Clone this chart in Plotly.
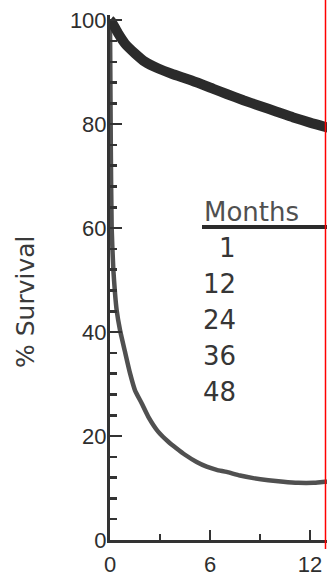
import plotly.graph_objects as go

# ---- data ----
upper_months = [0, 0.1, 0.5, 0.9, 1.5, 2.1, 2.9, 3.7, 4.9, 6.2, 7.0, 8.0, 9.0, 10.0, 11.0, 12.0, 13.1]
upper_surv = [100, 99.7, 97.4, 95.5, 93.6, 92.0, 90.7, 89.7, 88.4, 86.8, 85.8, 84.6, 83.5, 82.4, 81.3, 80.3, 79.3]

lower_months = [0, 0.05, 0.1, 0.2, 0.3, 0.4, 0.6, 0.9, 1.2, 1.5, 1.9, 2.3, 2.9, 3.5, 4.0, 4.5, 5.2,
                5.8, 6.4, 7.0, 7.8, 8.6, 9.5, 10.4, 11.3, 12.2, 12.9, 13.1]
lower_surv = [100, 75, 60, 52, 47.5, 44.2, 40.4, 36.2, 32.1, 28.8, 26.3, 23.7, 20.8, 18.9, 17.6, 16.4, 15.0,
              14.1, 13.5, 13.1, 12.4, 11.9, 11.5, 11.2, 11.0, 11.0, 11.2, 11.2]

x_ticks = [0, 6, 12]
y_ticks = [0, 20, 40, 60, 80, 100]
table_header = "Months"
table_months = ["1", "12", "24", "36", "48"]

# ---- layout geometry (pixels) ----
W, H = 327, 577
L, R, T, B = 110, 0, 15, 37
PW, PH = W - L - R, H - T - B
X_MAX = 13.02
Y_MIN, Y_MAX = 0, 101


def px_x(px):
    return (px - L) / PW


def px_y(py):
    return (H - B - py) / PH


fig = go.Figure()
fig.add_trace(go.Scatter(x=lower_months, y=lower_surv, mode="lines",
                         line=dict(color="#505050", width=4.5, shape="spline", smoothing=0.5),
                         hoverinfo="skip"))
fig.add_trace(go.Scatter(x=upper_months, y=upper_surv, mode="lines",
                         line=dict(color="#2b2b2b", width=10, shape="spline", smoothing=0.6),
                         hoverinfo="skip"))

axis_font = dict(family="Liberation Sans, Arial, sans-serif", size=22, color="#2e2e2e")

fig.update_layout(
    template="none",
    width=W, height=H, margin=dict(l=L, r=R, t=T, b=B, autoexpand=False),
    paper_bgcolor="white", plot_bgcolor="white", showlegend=False,
    xaxis=dict(range=[0, X_MAX], tickvals=x_ticks, ticks="inside", ticklen=10, tickwidth=2.5,
               tickcolor="#333333", showline=True, linewidth=3, linecolor="#333333",
               showgrid=False, zeroline=False, tickfont=axis_font, ticklabelstandoff=3,
               automargin=False,
               minor=dict(dtick=3, ticks="inside", ticklen=6, tickwidth=2.5, tickcolor="#333333", showgrid=False)),
    yaxis=dict(range=[Y_MIN, Y_MAX], tickvals=y_ticks, ticks="inside", ticklen=12, tickwidth=2.5,
               tickcolor="#333333", showline=True, linewidth=3, linecolor="#333333",
               showgrid=False, zeroline=False, tickfont=axis_font, ticklabelstandoff=-4,
               automargin=False,
               minor=dict(dtick=4, ticks="inside", ticklen=7, tickwidth=2.5, tickcolor="#333333", showgrid=False)),
)

table_font = dict(family="DejaVu Sans, sans-serif", size=26, color="#363636")

fig.add_annotation(text="% Survival", textangle=-90, xref="paper", yref="paper",
                   x=px_x(25), y=px_y(302), xanchor="center", yanchor="middle", showarrow=False,
                   font=dict(family="DejaVu Sans, sans-serif", size=25, color="#3a3a3a"))

fig.add_annotation(text=table_header, xref="paper", yref="paper", x=px_x(202), y=px_y(212),
                   xanchor="left", yanchor="middle", showarrow=False,
                   font=dict(family="DejaVu Sans, sans-serif", size=26, color="#505050"))
fig.add_shape(type="line", xref="paper", yref="paper", x0=px_x(202), x1=px_x(327),
              y0=px_y(227), y1=px_y(227), line=dict(color="#2b2b2b", width=4))

row_y = [248, 284, 320, 356, 392]
for label, ry in zip(table_months, row_y):
    fig.add_annotation(text=label, xref="paper", yref="paper", x=px_x(238), y=px_y(ry),
                       xanchor="right", yanchor="middle", showarrow=False, font=table_font)

# red crop marker at the right edge
fig.add_shape(type="line", xref="paper", yref="paper", x0=px_x(325.5), x1=px_x(325.5),
              y0=px_y(549), y1=px_y(0), line=dict(color="#ff0000", width=1.5))

fig.write_html("out.html", config={"displayModeBar": False, "staticPlot": True},
               post_script="document.body.style.margin='0';document.body.style.overflow='hidden';")
